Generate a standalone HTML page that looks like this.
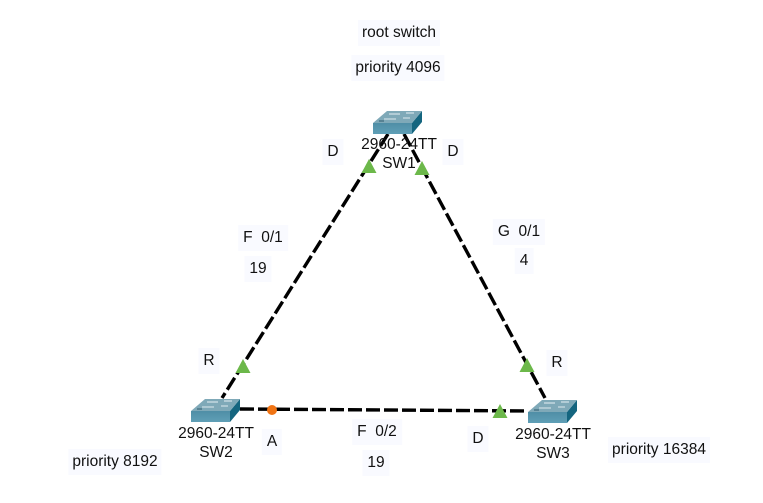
<!DOCTYPE html>
<html>
<head>
<meta charset="utf-8">
<style>
html,body{margin:0;padding:0;background:#fff;}
#c{position:relative;width:763px;height:503px;overflow:hidden;background:#fff;font-family:"Liberation Sans",Arial,sans-serif;color:#111;}
svg{position:absolute;left:0;top:0;}
.l{position:absolute;transform:translate(-50%,-50%);background:#f9faff;font-size:15.5px;line-height:16px;padding:5px 5px;white-space:nowrap;}
.n{position:absolute;transform:translateX(-50%);font-size:15.5px;line-height:19px;text-align:center;white-space:nowrap;}
</style>
</head>
<body>
<div id="c">
<div class="l" style="left:399px;top:33px;padding:5px 4px;">root switch</div>
<div class="l" style="left:398px;top:68px;padding:5px 4px;">priority 4096</div>
<div class="l" style="left:333px;top:152px;">D</div>
<div class="l" style="left:453px;top:152px;">D</div>
<div class="l" style="left:263px;top:238px;">F&nbsp; 0/1</div>
<div class="l" style="left:258px;top:269px;">19</div>
<div class="l" style="left:519px;top:232px;">G&nbsp; 0/1</div>
<div class="l" style="left:524px;top:261px;">4</div>
<div class="l" style="left:209px;top:361px;">R</div>
<div class="l" style="left:557px;top:363px;">R</div>
<div class="l" style="left:272px;top:442px;">A</div>
<div class="l" style="left:478px;top:439px;">D</div>
<div class="l" style="left:377px;top:432px;">F&nbsp; 0/2</div>
<div class="l" style="left:376px;top:463px;">19</div>
<div class="l" style="left:115px;top:462px;padding:5px 4px;">priority 8192</div>
<div class="l" style="left:659px;top:450px;padding:5px 4px;">priority 16384</div>
<svg width="763" height="503" viewBox="0 0 763 503">
<defs>
<linearGradient id="f" x1="0" y1="0" x2="0" y2="1"><stop offset="0" stop-color="#4f8ea6"/><stop offset="1" stop-color="#5f9fb6"/></linearGradient>
<g id="sw">
<polygon points="373,123 412,123 412,134 373,134" fill="url(#f)"/>
<polygon points="412,123 422,111 422,122 412,134" fill="#14657f"/>
<polygon points="373,123 387,111 422,111 412,123" fill="#7fa9b8"/>
<g stroke="#e6f0f4" stroke-width="1" fill="none">
<path d="M389,114H400M406,113H414"/>
<path d="M384,119H396M403,118H410" stroke="#dce9ee"/>
<path d="M379,121H384" stroke="#2f5c6e"/>
</g>
</g>
</defs>
<g stroke="#000" stroke-width="3.4" fill="none" stroke-dasharray="14 4">
<path d="M388,134L222,398"/>
<path d="M404,134L545,398"/>
<path d="M240,409L528,411"/>
</g>
<use href="#sw"/>
<use href="#sw" x="-182" y="288"/>
<use href="#sw" x="155" y="289"/>
<g fill="#6cb84a">
<polygon points="369,159 376.500,173 361.500,173"/>
<polygon points="422,161 429.500,175 414.500,175"/>
<polygon points="243,359 250.500,373 235.500,373"/>
<polygon points="527,358 534.500,372 519.500,372"/>
<polygon points="500,404 507.500,418 492.500,418"/>
</g>
<circle cx="272" cy="410" r="5" fill="#f07414"/>
</svg>
<div class="n" style="left:399px;top:135px;">2960-24TT<br>SW1</div>
<div class="n" style="left:216px;top:424px;">2960-24TT<br>SW2</div>
<div class="n" style="left:553px;top:425px;">2960-24TT<br>SW3</div>
</div>
</body>
</html>
